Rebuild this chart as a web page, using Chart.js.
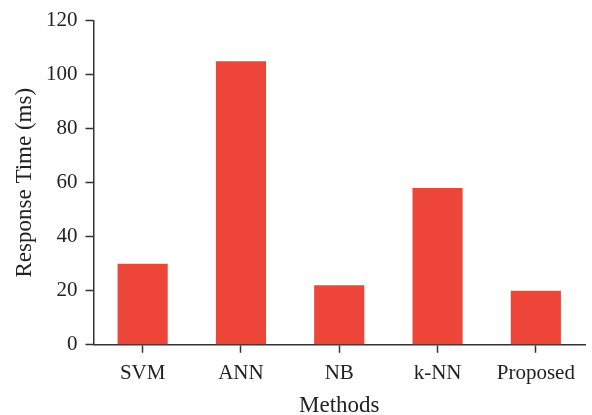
<!DOCTYPE html>
<html><head><meta charset="utf-8">
<script src="https://cdn.jsdelivr.net/npm/chart.js@4/dist/chart.umd.min.js"></script>
<style>html,body{margin:0;padding:0;background:#fff}#w{width:592px;height:415px}</style>
</head><body><div id="w"><canvas id="c"></canvas></div>
<script>
const categories = ["SVM", "ANN", "NB", "k-NN", "Proposed"];
const responseTime = [30, 105, 22, 58, 20];
const yTicks = [0, 20, 40, 60, 80, 100, 120];

const font = {family: "'Liberation Serif', serif", size: 21};
const titleFont = {family: "'Liberation Serif', serif", size: 23, lineHeight: 1.0};
new Chart(document.getElementById('c'), {
  type: 'bar',
  data: {labels: categories, datasets: [{data: responseTime, backgroundColor: '#EE4539', categoryPercentage: 1, barPercentage: 0.51}]},
  options: {
    responsive: true, maintainAspectRatio: false, animation: false,
    layout: {padding: {top: 10, right: 7, left: 13, bottom: -2}},
    plugins: {legend: {display: false}, tooltip: {enabled: false}},
    scales: {
      x: {
        grid: {drawOnChartArea: false, offset: false, tickLength: 8, color: '#333', tickWidth: 1.5},
        border: {color: '#333', width: 1.5},
        ticks: {font: font, color: '#222', padding: 8, maxRotation: 0},
        title: {display: true, text: 'Methods', font: titleFont, color: '#222', padding: {top: 0, bottom: 0}}
      },
      y: {
        min: 0, max: 120,
        afterBuildTicks: (s) => { s.ticks = yTicks.map(v => ({value: v})); },
        grid: {drawOnChartArea: false, tickLength: 8, color: '#333', tickWidth: 1.5},
        border: {color: '#333', width: 1.5},
        ticks: {font: font, color: '#222', padding: 8},
        title: {display: true, text: 'Response Time (ms)', font: titleFont, color: '#222', padding: {top: 0, bottom: 2}}
      }
    }
  }
});
</script></body></html>
